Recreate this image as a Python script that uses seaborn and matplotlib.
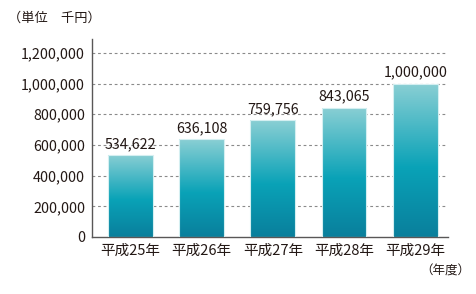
import matplotlib
matplotlib.use("Agg")
import matplotlib.pyplot as plt
import seaborn as sns
import numpy as np
import pandas as pd
from matplotlib.colors import LinearSegmentedColormap

years = ["平成25年", "平成26年", "平成27年", "平成28年", "平成29年"]
values = [534622, 636108, 759756, 843065, 1000000]
value_labels = ["534,622", "636,108", "759,756", "843,065", "1,000,000"]
yticks = [0, 200000, 400000, 600000, 800000, 1000000, 1200000]
ytick_labels = ["0", "200,000", "400,000", "600,000", "800,000", "1,000,000", "1,200,000"]

sns.set_theme(style="white")
plt.rcParams['font.family'] = ['Noto Sans CJK JP', 'DejaVu Sans']

df = pd.DataFrame({"year": years, "value": values})

fig = plt.figure(figsize=(4.76, 2.94), dpi=100)
ax = fig.add_axes([0.1933, 0.1939, 0.9412 - 0.1933, 0.8673 - 0.1939])

sns.barplot(data=df, x="year", y="value", ax=ax, width=0.63,
            color="#0aa0b4", edgecolor="#d4eff1", linewidth=0.8, zorder=3)

cmap = LinearSegmentedColormap.from_list(
    "g", [(0.0, "#0a7f9c"), (0.45, "#09a2b7"), (1.0, "#8acfd4")])
grad = np.linspace(0, 1, 256).reshape(-1, 1)
for p in ax.patches:
    x0, y0 = p.get_x(), p.get_y()
    w, h = p.get_width(), p.get_height()
    p.set_facecolor("none")
    im = ax.imshow(grad, extent=[x0, x0 + w, y0, y0 + h], origin="lower",
                   cmap=cmap, aspect="auto", zorder=2.5)
    im.set_clip_path(p)
ax.set_xlim(-0.54, 4.46)
ax.set_ylim(0, 1290000)

ax.set_yticks(yticks)
ax.set_yticklabels(ytick_labels)
ax.tick_params(axis="both", length=0, colors="#231815")
ax.tick_params(axis="x", labelsize=10.5, pad=5)
ax.tick_params(axis="y", labelsize=10.3, pad=5)
ax.set_xlabel("")
ax.set_ylabel("")

for y in yticks[1:]:
    ax.axhline(y, color="#8a8a8a", linestyle=(0, (2.5, 2.5)), linewidth=0.8, zorder=1)

for s in ["top", "right"]:
    ax.spines[s].set_visible(False)
for s in ["left", "bottom"]:
    ax.spines[s].set_color("#595757")
    ax.spines[s].set_linewidth(1.0)

for i, (v, lab) in enumerate(zip(values, value_labels)):
    ax.text(i, v + 25000, lab, ha="center", va="bottom", fontsize=10.3,
            color="#231815", zorder=4)

fig.text(8 / 476, 1 - 18 / 294, "（単位　千円）", ha="left", va="center",
         fontsize=9.5, color="#231815")
fig.text(470 / 476, 1 - 271 / 294, "（年度）", ha="right", va="center",
         fontsize=9, color="#231815")

fig.savefig("out.png", dpi=100)
